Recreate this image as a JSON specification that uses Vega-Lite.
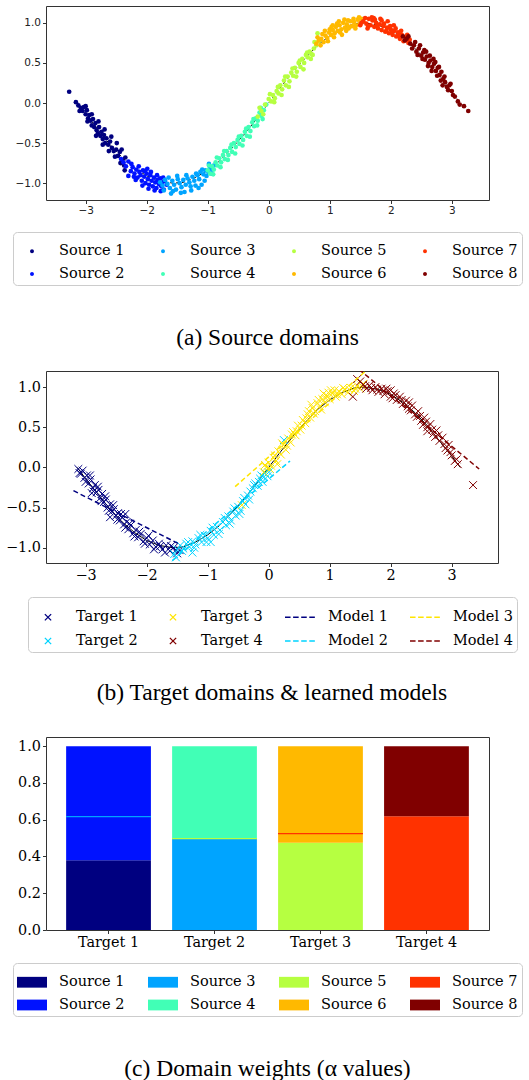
{
  "$schema": "https://vega.github.io/schema/vega-lite/v6.json",
  "padding": {"top": 5, "left": 5, "right": 0, "bottom": 0},
  "background": "white",
  "spacing": 31,
  "resolve": {"scale": {"color": "independent", "shape": "independent"}, "legend": {"color": "independent", "shape": "independent"}},
  "datasets": {
    "src": [
      {"d":"Source 1","x":-3.27,"y":0.14},{"d":"Source 1","x":-3.16,"y":0.01},{"d":"Source 1","x":-3.12,"y":-0.03},{"d":"Source 1","x":-3.08,"y":-0.06},{"d":"Source 1","x":-3.05,"y":-0.1},{"d":"Source 1","x":-3.03,"y":-0.05},{"d":"Source 1","x":-3.0,"y":-0.14},{"d":"Source 1","x":-2.98,"y":-0.09},{"d":"Source 1","x":-2.96,"y":-0.19},{"d":"Source 1","x":-2.94,"y":-0.15},{"d":"Source 1","x":-2.92,"y":-0.22},{"d":"Source 1","x":-2.9,"y":-0.28},{"d":"Source 1","x":-2.88,"y":-0.2},{"d":"Source 1","x":-2.86,"y":-0.3},{"d":"Source 1","x":-2.84,"y":-0.25},{"d":"Source 1","x":-2.82,"y":-0.34},{"d":"Source 1","x":-2.8,"y":-0.38},{"d":"Source 1","x":-2.78,"y":-0.3},{"d":"Source 1","x":-2.76,"y":-0.41},{"d":"Source 1","x":-2.74,"y":-0.36},{"d":"Source 1","x":-2.72,"y":-0.45},{"d":"Source 1","x":-2.7,"y":-0.4},{"d":"Source 1","x":-2.68,"y":-0.5},{"d":"Source 1","x":-2.66,"y":-0.44},{"d":"Source 1","x":-2.63,"y":-0.52},{"d":"Source 1","x":-2.6,"y":-0.48},{"d":"Source 1","x":-2.57,"y":-0.56},{"d":"Source 1","x":-2.54,"y":-0.6},{"d":"Source 1","x":-2.5,"y":-0.58},{"d":"Source 1","x":-2.47,"y":-0.66},{"d":"Source 1","x":-2.44,"y":-0.61},{"d":"Source 1","x":-2.4,"y":-0.72},{"d":"Source 1","x":-2.37,"y":-0.78},{"d":"Source 1","x":-2.35,"y":-0.68},
      {"d":"Source 1","x":-3.1,"y":-0.1},{"d":"Source 1","x":-3.0,"y":-0.04},{"d":"Source 1","x":-2.97,"y":-0.23},{"d":"Source 1","x":-2.9,"y":-0.14},{"d":"Source 1","x":-2.83,"y":-0.41},{"d":"Source 1","x":-2.79,"y":-0.23},{"d":"Source 1","x":-2.72,"y":-0.52},{"d":"Source 1","x":-2.69,"y":-0.33},{"d":"Source 1","x":-2.62,"y":-0.6},{"d":"Source 1","x":-2.58,"y":-0.42},{"d":"Source 1","x":-2.52,"y":-0.67},{"d":"Source 1","x":-2.49,"y":-0.5},{"d":"Source 1","x":-2.43,"y":-0.75},{"d":"Source 1","x":-2.41,"y":-0.58},{"d":"Source 1","x":-2.36,"y":-0.84},
      {"d":"Source 2","x":-2.42,"y":-0.7},{"d":"Source 2","x":-2.38,"y":-0.74},{"d":"Source 2","x":-2.34,"y":-0.79},{"d":"Source 2","x":-2.3,"y":-0.73},{"d":"Source 2","x":-2.26,"y":-0.85},{"d":"Source 2","x":-2.23,"y":-0.8},{"d":"Source 2","x":-2.2,"y":-0.88},{"d":"Source 2","x":-2.17,"y":-0.83},{"d":"Source 2","x":-2.15,"y":-0.93},{"d":"Source 2","x":-2.12,"y":-0.86},{"d":"Source 2","x":-2.1,"y":-0.9},{"d":"Source 2","x":-2.08,"y":-0.97},{"d":"Source 2","x":-2.06,"y":-0.84},{"d":"Source 2","x":-2.04,"y":-0.92},{"d":"Source 2","x":-2.02,"y":-1.0},{"d":"Source 2","x":-2.0,"y":-0.88},{"d":"Source 2","x":-1.98,"y":-0.95},{"d":"Source 2","x":-1.96,"y":-1.02},{"d":"Source 2","x":-1.94,"y":-0.9},{"d":"Source 2","x":-1.92,"y":-0.97},{"d":"Source 2","x":-1.9,"y":-1.04},{"d":"Source 2","x":-1.88,"y":-0.93},{"d":"Source 2","x":-1.86,"y":-0.99},{"d":"Source 2","x":-1.84,"y":-1.06},{"d":"Source 2","x":-1.82,"y":-0.96},{"d":"Source 2","x":-1.8,"y":-1.01},{"d":"Source 2","x":-1.78,"y":-0.94},{"d":"Source 2","x":-1.76,"y":-1.04},{"d":"Source 2","x":-1.74,"y":-0.99},{"d":"Source 2","x":-1.72,"y":-1.08},{"d":"Source 2","x":-1.7,"y":-0.97},{"d":"Source 2","x":-1.67,"y":-1.02},
      {"d":"Source 2","x":-2.3,"y":-0.91},{"d":"Source 2","x":-2.25,"y":-0.76},{"d":"Source 2","x":-2.18,"y":-0.96},{"d":"Source 2","x":-2.13,"y":-0.79},{"d":"Source 2","x":-2.07,"y":-1.03},{"d":"Source 2","x":-2.03,"y":-0.85},{"d":"Source 2","x":-1.97,"y":-1.07},{"d":"Source 2","x":-1.93,"y":-0.86},{"d":"Source 2","x":-1.87,"y":-1.09},{"d":"Source 2","x":-1.83,"y":-0.9},{"d":"Source 2","x":-1.77,"y":-1.1},{"d":"Source 2","x":-1.73,"y":-0.93},{"d":"Source 2","x":-2.21,"y":-0.92},{"d":"Source 2","x":-1.99,"y":-0.82},
      {"d":"Source 3","x":-1.78,"y":-0.99},{"d":"Source 3","x":-1.74,"y":-1.03},{"d":"Source 3","x":-1.7,"y":-0.96},{"d":"Source 3","x":-1.66,"y":-1.01},{"d":"Source 3","x":-1.62,"y":-1.06},{"d":"Source 3","x":-1.58,"y":-0.97},{"d":"Source 3","x":-1.55,"y":-1.02},{"d":"Source 3","x":-1.52,"y":-1.08},{"d":"Source 3","x":-1.49,"y":-0.95},{"d":"Source 3","x":-1.46,"y":-1.0},{"d":"Source 3","x":-1.43,"y":-1.05},{"d":"Source 3","x":-1.4,"y":-0.96},{"d":"Source 3","x":-1.38,"y":-1.11},{"d":"Source 3","x":-1.36,"y":-1.02},{"d":"Source 3","x":-1.33,"y":-0.94},{"d":"Source 3","x":-1.3,"y":-0.99},{"d":"Source 3","x":-1.28,"y":-1.04},{"d":"Source 3","x":-1.25,"y":-0.92},{"d":"Source 3","x":-1.22,"y":-0.97},{"d":"Source 3","x":-1.2,"y":-1.03},{"d":"Source 3","x":-1.17,"y":-0.9},{"d":"Source 3","x":-1.14,"y":-0.95},{"d":"Source 3","x":-1.12,"y":-0.86},{"d":"Source 3","x":-1.1,"y":-1.02},{"d":"Source 3","x":-1.07,"y":-0.89},{"d":"Source 3","x":-1.04,"y":-0.84},{"d":"Source 3","x":-1.02,"y":-0.91},{"d":"Source 3","x":-0.99,"y":-0.86},{"d":"Source 3","x":-0.96,"y":-0.8},{"d":"Source 3","x":-0.93,"y":-0.83},{"d":"Source 3","x":-0.9,"y":-0.78},
      {"d":"Source 3","x":-1.72,"y":-1.09},{"d":"Source 3","x":-1.64,"y":-0.93},{"d":"Source 3","x":-1.57,"y":-1.1},{"d":"Source 3","x":-1.5,"y":-0.91},{"d":"Source 3","x":-1.44,"y":-1.12},{"d":"Source 3","x":-1.35,"y":-0.9},{"d":"Source 3","x":-1.27,"y":-1.09},{"d":"Source 3","x":-1.19,"y":-0.88},{"d":"Source 3","x":-1.15,"y":-1.06},{"d":"Source 3","x":-1.09,"y":-0.83},{"d":"Source 3","x":-1.05,"y":-0.97},{"d":"Source 3","x":-0.98,"y":-0.76},{"d":"Source 3","x":-0.94,"y":-0.88},{"d":"Source 3","x":-1.6,"y":-1.13},
      {"d":"Source 4","x":-1.0,"y":-0.84},{"d":"Source 4","x":-0.96,"y":-0.88},{"d":"Source 4","x":-0.93,"y":-0.79},{"d":"Source 4","x":-0.9,"y":-0.83},{"d":"Source 4","x":-0.87,"y":-0.74},{"d":"Source 4","x":-0.84,"y":-0.78},{"d":"Source 4","x":-0.81,"y":-0.69},{"d":"Source 4","x":-0.78,"y":-0.74},{"d":"Source 4","x":-0.75,"y":-0.65},{"d":"Source 4","x":-0.72,"y":-0.7},{"d":"Source 4","x":-0.69,"y":-0.6},{"d":"Source 4","x":-0.66,"y":-0.65},{"d":"Source 4","x":-0.63,"y":-0.56},{"d":"Source 4","x":-0.6,"y":-0.61},{"d":"Source 4","x":-0.57,"y":-0.5},{"d":"Source 4","x":-0.54,"y":-0.55},{"d":"Source 4","x":-0.51,"y":-0.46},{"d":"Source 4","x":-0.48,"y":-0.51},{"d":"Source 4","x":-0.45,"y":-0.41},{"d":"Source 4","x":-0.42,"y":-0.46},{"d":"Source 4","x":-0.39,"y":-0.36},{"d":"Source 4","x":-0.36,"y":-0.41},{"d":"Source 4","x":-0.33,"y":-0.3},{"d":"Source 4","x":-0.3,"y":-0.35},{"d":"Source 4","x":-0.27,"y":-0.24},{"d":"Source 4","x":-0.24,"y":-0.29},{"d":"Source 4","x":-0.21,"y":-0.19},{"d":"Source 4","x":-0.18,"y":-0.22},{"d":"Source 4","x":-0.15,"y":-0.12},{"d":"Source 4","x":-0.12,"y":-0.16},{"d":"Source 4","x":-0.08,"y":-0.09},{"d":"Source 4","x":-0.04,"y":-0.02},
      {"d":"Source 4","x":-0.98,"y":-0.78},{"d":"Source 4","x":-0.91,"y":-0.89},{"d":"Source 4","x":-0.85,"y":-0.68},{"d":"Source 4","x":-0.79,"y":-0.8},{"d":"Source 4","x":-0.73,"y":-0.6},{"d":"Source 4","x":-0.67,"y":-0.71},{"d":"Source 4","x":-0.61,"y":-0.52},{"d":"Source 4","x":-0.55,"y":-0.63},{"d":"Source 4","x":-0.49,"y":-0.42},{"d":"Source 4","x":-0.43,"y":-0.53},{"d":"Source 4","x":-0.37,"y":-0.32},{"d":"Source 4","x":-0.31,"y":-0.42},{"d":"Source 4","x":-0.25,"y":-0.2},{"d":"Source 4","x":-0.19,"y":-0.28},{"d":"Source 4","x":-0.13,"y":-0.06},{"d":"Source 4","x":-0.1,"y":-0.2},
      {"d":"Source 5","x":-0.18,"y":-0.17},{"d":"Source 5","x":-0.12,"y":-0.1},{"d":"Source 5","x":-0.06,"y":-0.02},{"d":"Source 5","x":0.0,"y":0.05},{"d":"Source 5","x":0.04,"y":0.02},{"d":"Source 5","x":0.07,"y":0.1},{"d":"Source 5","x":0.1,"y":0.06},{"d":"Source 5","x":0.13,"y":0.15},{"d":"Source 5","x":0.16,"y":0.12},{"d":"Source 5","x":0.19,"y":0.22},{"d":"Source 5","x":0.22,"y":0.17},{"d":"Source 5","x":0.25,"y":0.28},{"d":"Source 5","x":0.28,"y":0.22},{"d":"Source 5","x":0.31,"y":0.33},{"d":"Source 5","x":0.34,"y":0.27},{"d":"Source 5","x":0.37,"y":0.38},{"d":"Source 5","x":0.4,"y":0.34},{"d":"Source 5","x":0.43,"y":0.44},{"d":"Source 5","x":0.46,"y":0.39},{"d":"Source 5","x":0.49,"y":0.5},{"d":"Source 5","x":0.52,"y":0.45},{"d":"Source 5","x":0.55,"y":0.55},{"d":"Source 5","x":0.58,"y":0.5},{"d":"Source 5","x":0.61,"y":0.6},{"d":"Source 5","x":0.64,"y":0.57},{"d":"Source 5","x":0.67,"y":0.64},{"d":"Source 5","x":0.7,"y":0.61},{"d":"Source 5","x":0.74,"y":0.68},{"d":"Source 5","x":0.78,"y":0.72},{"d":"Source 5","x":0.82,"y":0.77},{"d":"Source 5","x":0.8,"y":0.87},
      {"d":"Source 5","x":-0.15,"y":-0.06},{"d":"Source 5","x":-0.09,"y":-0.14},{"d":"Source 5","x":0.02,"y":0.11},{"d":"Source 5","x":0.09,"y":0.01},{"d":"Source 5","x":0.15,"y":0.2},{"d":"Source 5","x":0.21,"y":0.1},{"d":"Source 5","x":0.27,"y":0.33},{"d":"Source 5","x":0.33,"y":0.2},{"d":"Source 5","x":0.39,"y":0.43},{"d":"Source 5","x":0.45,"y":0.33},{"d":"Source 5","x":0.51,"y":0.53},{"d":"Source 5","x":0.57,"y":0.42},{"d":"Source 5","x":0.63,"y":0.63},{"d":"Source 5","x":0.69,"y":0.55},{"d":"Source 5","x":0.75,"y":0.76},{"d":"Source 5","x":0.72,"y":0.6},
      {"d":"Source 6","x":0.78,"y":0.74},{"d":"Source 6","x":0.82,"y":0.78},{"d":"Source 6","x":0.86,"y":0.8},{"d":"Source 6","x":0.9,"y":0.76},{"d":"Source 6","x":0.93,"y":0.84},{"d":"Source 6","x":0.96,"y":0.81},{"d":"Source 6","x":0.99,"y":0.88},{"d":"Source 6","x":1.02,"y":0.85},{"d":"Source 6","x":1.05,"y":0.91},{"d":"Source 6","x":1.08,"y":0.87},{"d":"Source 6","x":1.1,"y":0.95},{"d":"Source 6","x":1.13,"y":0.9},{"d":"Source 6","x":1.16,"y":0.97},{"d":"Source 6","x":1.19,"y":0.92},{"d":"Source 6","x":1.22,"y":1.0},{"d":"Source 6","x":1.25,"y":0.94},{"d":"Source 6","x":1.28,"y":0.98},{"d":"Source 6","x":1.31,"y":0.93},{"d":"Source 6","x":1.34,"y":1.02},{"d":"Source 6","x":1.37,"y":0.96},{"d":"Source 6","x":1.4,"y":1.01},{"d":"Source 6","x":1.43,"y":0.97},{"d":"Source 6","x":1.46,"y":1.04},{"d":"Source 6","x":1.49,"y":0.99},{"d":"Source 6","x":1.52,"y":1.05},{"d":"Source 6","x":1.2,"y":0.85},{"d":"Source 6","x":1.05,"y":0.97},{"d":"Source 6","x":1.3,"y":1.03},{"d":"Source 6","x":1.0,"y":0.92},{"d":"Source 6","x":0.88,"y":0.86},
      {"d":"Source 6","x":0.8,"y":0.82},{"d":"Source 6","x":0.85,"y":0.72},{"d":"Source 6","x":0.92,"y":0.9},{"d":"Source 6","x":0.97,"y":0.77},{"d":"Source 6","x":1.03,"y":0.95},{"d":"Source 6","x":1.07,"y":0.82},{"d":"Source 6","x":1.12,"y":0.99},{"d":"Source 6","x":1.17,"y":0.88},{"d":"Source 6","x":1.24,"y":1.04},{"d":"Source 6","x":1.27,"y":0.9},{"d":"Source 6","x":1.33,"y":0.95},{"d":"Source 6","x":1.39,"y":1.05},{"d":"Source 6","x":1.42,"y":0.93},{"d":"Source 6","x":1.48,"y":1.07},{"d":"Source 6","x":1.15,"y":1.02},
      {"d":"Source 7","x":1.5,"y":0.97},{"d":"Source 7","x":1.55,"y":1.02},{"d":"Source 7","x":1.6,"y":0.99},{"d":"Source 7","x":1.64,"y":1.05},{"d":"Source 7","x":1.67,"y":0.97},{"d":"Source 7","x":1.7,"y":1.03},{"d":"Source 7","x":1.73,"y":0.95},{"d":"Source 7","x":1.76,"y":1.0},{"d":"Source 7","x":1.79,"y":0.93},{"d":"Source 7","x":1.82,"y":0.98},{"d":"Source 7","x":1.85,"y":0.91},{"d":"Source 7","x":1.88,"y":0.96},{"d":"Source 7","x":1.91,"y":0.89},{"d":"Source 7","x":1.94,"y":0.94},{"d":"Source 7","x":1.97,"y":0.87},{"d":"Source 7","x":2.0,"y":0.92},{"d":"Source 7","x":2.03,"y":0.85},{"d":"Source 7","x":2.06,"y":0.9},{"d":"Source 7","x":2.09,"y":0.83},{"d":"Source 7","x":2.12,"y":0.88},{"d":"Source 7","x":2.15,"y":0.8},{"d":"Source 7","x":2.18,"y":0.85},{"d":"Source 7","x":2.21,"y":0.77},{"d":"Source 7","x":2.25,"y":0.82},{"d":"Source 7","x":2.29,"y":0.75},{"d":"Source 7","x":1.72,"y":1.06},{"d":"Source 7","x":1.85,"y":1.03},{"d":"Source 7","x":1.95,"y":1.02},{"d":"Source 7","x":2.05,"y":0.97},{"d":"Source 7","x":1.62,"y":0.93},
      {"d":"Source 7","x":1.52,"y":1.0},{"d":"Source 7","x":1.58,"y":1.06},{"d":"Source 7","x":1.63,"y":0.96},{"d":"Source 7","x":1.69,"y":1.07},{"d":"Source 7","x":1.74,"y":1.04},{"d":"Source 7","x":1.78,"y":0.97},{"d":"Source 7","x":1.83,"y":1.05},{"d":"Source 7","x":1.89,"y":0.99},{"d":"Source 7","x":1.93,"y":0.9},{"d":"Source 7","x":1.99,"y":0.96},{"d":"Source 7","x":2.02,"y":0.89},{"d":"Source 7","x":2.08,"y":0.93},{"d":"Source 7","x":2.13,"y":0.84},{"d":"Source 7","x":2.17,"y":0.9},{"d":"Source 7","x":2.23,"y":0.78},{"d":"Source 7","x":2.27,"y":0.85},{"d":"Source 7","x":2.31,"y":0.79},
      {"d":"Source 8","x":2.2,"y":0.83},{"d":"Source 8","x":2.26,"y":0.8},{"d":"Source 8","x":2.32,"y":0.74},{"d":"Source 8","x":2.38,"y":0.72},{"d":"Source 8","x":2.42,"y":0.64},{"d":"Source 8","x":2.46,"y":0.68},{"d":"Source 8","x":2.5,"y":0.59},{"d":"Source 8","x":2.53,"y":0.63},{"d":"Source 8","x":2.56,"y":0.54},{"d":"Source 8","x":2.59,"y":0.58},{"d":"Source 8","x":2.62,"y":0.5},{"d":"Source 8","x":2.65,"y":0.53},{"d":"Source 8","x":2.68,"y":0.45},{"d":"Source 8","x":2.71,"y":0.49},{"d":"Source 8","x":2.74,"y":0.4},{"d":"Source 8","x":2.77,"y":0.44},{"d":"Source 8","x":2.8,"y":0.35},{"d":"Source 8","x":2.83,"y":0.39},{"d":"Source 8","x":2.86,"y":0.3},{"d":"Source 8","x":2.89,"y":0.26},{"d":"Source 8","x":2.92,"y":0.2},{"d":"Source 8","x":2.96,"y":0.22},{"d":"Source 8","x":3.0,"y":0.15},{"d":"Source 8","x":3.05,"y":0.08},{"d":"Source 8","x":3.1,"y":0.02},{"d":"Source 8","x":3.2,"y":-0.04},{"d":"Source 8","x":3.27,"y":-0.1},{"d":"Source 8","x":2.55,"y":0.66},{"d":"Source 8","x":2.7,"y":0.55},{"d":"Source 8","x":2.85,"y":0.22},
      {"d":"Source 8","x":2.23,"y":0.78},{"d":"Source 8","x":2.29,"y":0.83},{"d":"Source 8","x":2.35,"y":0.68},{"d":"Source 8","x":2.4,"y":0.76},{"d":"Source 8","x":2.44,"y":0.6},{"d":"Source 8","x":2.48,"y":0.72},{"d":"Source 8","x":2.52,"y":0.55},{"d":"Source 8","x":2.58,"y":0.64},{"d":"Source 8","x":2.61,"y":0.46},{"d":"Source 8","x":2.64,"y":0.59},{"d":"Source 8","x":2.67,"y":0.4},{"d":"Source 8","x":2.73,"y":0.51},{"d":"Source 8","x":2.76,"y":0.34},{"d":"Source 8","x":2.79,"y":0.45},{"d":"Source 8","x":2.82,"y":0.28},{"d":"Source 8","x":2.88,"y":0.33},{"d":"Source 8","x":2.94,"y":0.16},{"d":"Source 8","x":2.98,"y":0.24},{"d":"Source 8","x":3.02,"y":0.1},{"d":"Source 8","x":3.13,"y":-0.02}
    ],
    "tgt": [
      {"d":"Target 1","x":-3.12,"y":-0.02},{"d":"Target 1","x":-3.08,"y":-0.08},{"d":"Target 1","x":-3.05,"y":-0.04},{"d":"Target 1","x":-3.02,"y":-0.13},{"d":"Target 1","x":-2.98,"y":-0.1},{"d":"Target 1","x":-2.95,"y":-0.2},{"d":"Target 1","x":-2.92,"y":-0.15},{"d":"Target 1","x":-2.88,"y":-0.26},{"d":"Target 1","x":-2.85,"y":-0.22},{"d":"Target 1","x":-2.82,"y":-0.31},{"d":"Target 1","x":-2.79,"y":-0.28},{"d":"Target 1","x":-2.76,"y":-0.38},{"d":"Target 1","x":-2.73,"y":-0.33},{"d":"Target 1","x":-2.7,"y":-0.43},{"d":"Target 1","x":-2.67,"y":-0.4},{"d":"Target 1","x":-2.64,"y":-0.5},{"d":"Target 1","x":-2.6,"y":-0.46},{"d":"Target 1","x":-2.57,"y":-0.55},{"d":"Target 1","x":-2.54,"y":-0.52},{"d":"Target 1","x":-2.5,"y":-0.6},{"d":"Target 1","x":-2.47,"y":-0.57},{"d":"Target 1","x":-2.44,"y":-0.66},{"d":"Target 1","x":-2.4,"y":-0.62},{"d":"Target 1","x":-2.37,"y":-0.71},{"d":"Target 1","x":-2.33,"y":-0.68},{"d":"Target 1","x":-2.3,"y":-0.77},{"d":"Target 1","x":-2.26,"y":-0.72},{"d":"Target 1","x":-2.22,"y":-0.82},{"d":"Target 1","x":-2.18,"y":-0.78},{"d":"Target 1","x":-2.14,"y":-0.87},{"d":"Target 1","x":-2.1,"y":-0.83},{"d":"Target 1","x":-2.05,"y":-0.92},{"d":"Target 1","x":-2.0,"y":-0.88},{"d":"Target 1","x":-1.95,"y":-0.96},{"d":"Target 1","x":-1.9,"y":-0.91},{"d":"Target 1","x":-1.85,"y":-0.99},{"d":"Target 1","x":-1.8,"y":-0.95},{"d":"Target 1","x":-1.74,"y":-1.02},{"d":"Target 1","x":-1.68,"y":-0.97},{"d":"Target 1","x":-1.62,"y":-1.04},{"d":"Target 1","x":-1.56,"y":-1.0},{"d":"Target 1","x":-1.5,"y":-1.07},{"d":"Target 1","x":-1.46,"y":-1.03},{"d":"Target 1","x":-2.6,"y":-0.62},{"d":"Target 1","x":-2.35,"y":-0.58},{"d":"Target 1","x":-2.9,"y":-0.32},
      {"d":"Target 1","x":-3.1,"y":-0.07},{"d":"Target 1","x":-3.0,"y":-0.18},{"d":"Target 1","x":-2.93,"y":-0.1},{"d":"Target 1","x":-2.87,"y":-0.3},{"d":"Target 1","x":-2.8,"y":-0.24},{"d":"Target 1","x":-2.74,"y":-0.42},{"d":"Target 1","x":-2.68,"y":-0.36},{"d":"Target 1","x":-2.62,"y":-0.54},{"d":"Target 1","x":-2.55,"y":-0.47},{"d":"Target 1","x":-2.48,"y":-0.65},{"d":"Target 1","x":-2.42,"y":-0.58},{"d":"Target 1","x":-2.35,"y":-0.75},{"d":"Target 1","x":-2.28,"y":-0.7},{"d":"Target 1","x":-2.2,"y":-0.86},{"d":"Target 1","x":-2.12,"y":-0.8},{"d":"Target 1","x":-2.03,"y":-0.95},{"d":"Target 1","x":-1.97,"y":-0.85},{"d":"Target 1","x":-1.88,"y":-1.02},{"d":"Target 1","x":-1.78,"y":-0.98},{"d":"Target 1","x":-1.7,"y":-1.06},{"d":"Target 1","x":-1.6,"y":-0.98},{"d":"Target 1","x":-1.52,"y":-1.03},
      {"d":"Target 2","x":-1.55,"y":-1.08},{"d":"Target 2","x":-1.5,"y":-1.02},{"d":"Target 2","x":-1.45,"y":-0.97},{"d":"Target 2","x":-1.4,"y":-1.01},{"d":"Target 2","x":-1.35,"y":-0.95},{"d":"Target 2","x":-1.3,"y":-0.99},{"d":"Target 2","x":-1.25,"y":-0.92},{"d":"Target 2","x":-1.2,"y":-0.96},{"d":"Target 2","x":-1.15,"y":-0.88},{"d":"Target 2","x":-1.1,"y":-0.93},{"d":"Target 2","x":-1.05,"y":-0.85},{"d":"Target 2","x":-1.0,"y":-0.88},{"d":"Target 2","x":-0.95,"y":-0.79},{"d":"Target 2","x":-0.9,"y":-0.84},{"d":"Target 2","x":-0.85,"y":-0.74},{"d":"Target 2","x":-0.8,"y":-0.78},{"d":"Target 2","x":-0.75,"y":-0.68},{"d":"Target 2","x":-0.7,"y":-0.72},{"d":"Target 2","x":-0.66,"y":-0.61},{"d":"Target 2","x":-0.62,"y":-0.66},{"d":"Target 2","x":-0.58,"y":-0.55},{"d":"Target 2","x":-0.54,"y":-0.6},{"d":"Target 2","x":-0.5,"y":-0.49},{"d":"Target 2","x":-0.46,"y":-0.54},{"d":"Target 2","x":-0.42,"y":-0.42},{"d":"Target 2","x":-0.38,"y":-0.46},{"d":"Target 2","x":-0.34,"y":-0.35},{"d":"Target 2","x":-0.3,"y":-0.3},{"d":"Target 2","x":-0.26,"y":-0.26},{"d":"Target 2","x":-0.22,"y":-0.2},{"d":"Target 2","x":-0.18,"y":-0.23},{"d":"Target 2","x":-0.14,"y":-0.14},{"d":"Target 2","x":-0.1,"y":-0.18},{"d":"Target 2","x":-0.06,"y":-0.07},{"d":"Target 2","x":-0.02,"y":-0.11},{"d":"Target 2","x":0.02,"y":-0.02},{"d":"Target 2","x":0.25,"y":0.34},{"d":"Target 2","x":-1.25,"y":-1.06},{"d":"Target 2","x":-0.95,"y":-0.93},
      {"d":"Target 2","x":-1.52,"y":-1.12},{"d":"Target 2","x":-1.42,"y":-1.04},{"d":"Target 2","x":-1.32,"y":-0.93},{"d":"Target 2","x":-1.22,"y":-1.0},{"d":"Target 2","x":-1.12,"y":-0.84},{"d":"Target 2","x":-1.02,"y":-0.93},{"d":"Target 2","x":-0.92,"y":-0.75},{"d":"Target 2","x":-0.82,"y":-0.83},{"d":"Target 2","x":-0.72,"y":-0.63},{"d":"Target 2","x":-0.64,"y":-0.7},{"d":"Target 2","x":-0.56,"y":-0.51},{"d":"Target 2","x":-0.48,"y":-0.58},{"d":"Target 2","x":-0.4,"y":-0.38},{"d":"Target 2","x":-0.32,"y":-0.4},{"d":"Target 2","x":-0.24,"y":-0.22},{"d":"Target 2","x":-0.16,"y":-0.18},{"d":"Target 2","x":-0.08,"y":-0.12},{"d":"Target 2","x":0.0,"y":-0.06},{"d":"Target 2","x":-0.12,"y":-0.1},
      {"d":"Target 3","x":-0.44,"y":-0.47},{"d":"Target 3","x":-0.08,"y":-0.06},{"d":"Target 3","x":-0.04,"y":0.0},{"d":"Target 3","x":0.0,"y":0.06},{"d":"Target 3","x":0.04,"y":0.02},{"d":"Target 3","x":0.08,"y":0.12},{"d":"Target 3","x":0.12,"y":0.08},{"d":"Target 3","x":0.16,"y":0.2},{"d":"Target 3","x":0.2,"y":0.16},{"d":"Target 3","x":0.24,"y":0.28},{"d":"Target 3","x":0.28,"y":0.22},{"d":"Target 3","x":0.32,"y":0.36},{"d":"Target 3","x":0.36,"y":0.31},{"d":"Target 3","x":0.4,"y":0.44},{"d":"Target 3","x":0.44,"y":0.4},{"d":"Target 3","x":0.48,"y":0.52},{"d":"Target 3","x":0.52,"y":0.47},{"d":"Target 3","x":0.56,"y":0.59},{"d":"Target 3","x":0.6,"y":0.55},{"d":"Target 3","x":0.64,"y":0.66},{"d":"Target 3","x":0.68,"y":0.62},{"d":"Target 3","x":0.72,"y":0.74},{"d":"Target 3","x":0.76,"y":0.7},{"d":"Target 3","x":0.8,"y":0.8},{"d":"Target 3","x":0.84,"y":0.76},{"d":"Target 3","x":0.88,"y":0.85},{"d":"Target 3","x":0.92,"y":0.81},{"d":"Target 3","x":0.96,"y":0.89},{"d":"Target 3","x":1.0,"y":0.85},{"d":"Target 3","x":1.05,"y":0.92},{"d":"Target 3","x":1.1,"y":0.88},{"d":"Target 3","x":1.15,"y":0.95},{"d":"Target 3","x":1.2,"y":0.91},{"d":"Target 3","x":1.25,"y":0.97},{"d":"Target 3","x":1.3,"y":0.93},{"d":"Target 3","x":1.35,"y":0.99},{"d":"Target 3","x":1.4,"y":0.95},{"d":"Target 3","x":1.45,"y":1.02},{"d":"Target 3","x":1.5,"y":0.98},{"d":"Target 3","x":1.55,"y":1.04},{"d":"Target 3","x":0.7,"y":0.78},{"d":"Target 3","x":0.9,"y":0.92},{"d":"Target 3","x":1.02,"y":0.96},
      {"d":"Target 3","x":-0.06,"y":0.03},{"d":"Target 3","x":0.02,"y":-0.02},{"d":"Target 3","x":0.1,"y":0.15},{"d":"Target 3","x":0.14,"y":0.04},{"d":"Target 3","x":0.22,"y":0.3},{"d":"Target 3","x":0.3,"y":0.27},{"d":"Target 3","x":0.38,"y":0.41},{"d":"Target 3","x":0.46,"y":0.45},{"d":"Target 3","x":0.54,"y":0.52},{"d":"Target 3","x":0.62,"y":0.61},{"d":"Target 3","x":0.66,"y":0.7},{"d":"Target 3","x":0.74,"y":0.67},{"d":"Target 3","x":0.82,"y":0.84},{"d":"Target 3","x":0.86,"y":0.72},{"d":"Target 3","x":0.94,"y":0.86},{"d":"Target 3","x":0.98,"y":0.93},{"d":"Target 3","x":1.08,"y":0.96},{"d":"Target 3","x":1.12,"y":0.91},{"d":"Target 3","x":1.22,"y":0.99},{"d":"Target 3","x":1.32,"y":0.97},{"d":"Target 3","x":1.42,"y":0.98},{"d":"Target 3","x":1.52,"y":1.02},
      {"d":"Target 4","x":1.45,"y":1.1},{"d":"Target 4","x":1.38,"y":0.88},{"d":"Target 4","x":1.55,"y":1.03},{"d":"Target 4","x":1.6,"y":0.98},{"d":"Target 4","x":1.65,"y":1.02},{"d":"Target 4","x":1.7,"y":0.96},{"d":"Target 4","x":1.75,"y":1.0},{"d":"Target 4","x":1.8,"y":0.94},{"d":"Target 4","x":1.85,"y":0.98},{"d":"Target 4","x":1.9,"y":0.91},{"d":"Target 4","x":1.95,"y":0.95},{"d":"Target 4","x":2.0,"y":0.88},{"d":"Target 4","x":2.05,"y":0.92},{"d":"Target 4","x":2.1,"y":0.84},{"d":"Target 4","x":2.15,"y":0.88},{"d":"Target 4","x":2.2,"y":0.79},{"d":"Target 4","x":2.25,"y":0.83},{"d":"Target 4","x":2.3,"y":0.73},{"d":"Target 4","x":2.35,"y":0.77},{"d":"Target 4","x":2.4,"y":0.66},{"d":"Target 4","x":2.45,"y":0.7},{"d":"Target 4","x":2.5,"y":0.58},{"d":"Target 4","x":2.55,"y":0.62},{"d":"Target 4","x":2.6,"y":0.5},{"d":"Target 4","x":2.65,"y":0.54},{"d":"Target 4","x":2.7,"y":0.42},{"d":"Target 4","x":2.75,"y":0.46},{"d":"Target 4","x":2.8,"y":0.33},{"d":"Target 4","x":2.85,"y":0.37},{"d":"Target 4","x":2.9,"y":0.24},{"d":"Target 4","x":2.95,"y":0.28},{"d":"Target 4","x":3.0,"y":0.15},{"d":"Target 4","x":3.05,"y":0.08},{"d":"Target 4","x":3.1,"y":0.04},{"d":"Target 4","x":3.35,"y":-0.22},{"d":"Target 4","x":2.0,"y":0.96},{"d":"Target 4","x":2.3,"y":0.81},{"d":"Target 4","x":2.6,"y":0.45},
      {"d":"Target 4","x":1.5,"y":1.07},{"d":"Target 4","x":1.58,"y":1.01},{"d":"Target 4","x":1.68,"y":0.99},{"d":"Target 4","x":1.78,"y":0.97},{"d":"Target 4","x":1.88,"y":0.95},{"d":"Target 4","x":1.93,"y":0.98},{"d":"Target 4","x":2.03,"y":0.86},{"d":"Target 4","x":2.08,"y":0.9},{"d":"Target 4","x":2.18,"y":0.84},{"d":"Target 4","x":2.28,"y":0.76},{"d":"Target 4","x":2.33,"y":0.71},{"d":"Target 4","x":2.43,"y":0.63},{"d":"Target 4","x":2.48,"y":0.64},{"d":"Target 4","x":2.53,"y":0.53},{"d":"Target 4","x":2.58,"y":0.57},{"d":"Target 4","x":2.68,"y":0.47},{"d":"Target 4","x":2.73,"y":0.38},{"d":"Target 4","x":2.78,"y":0.4},{"d":"Target 4","x":2.88,"y":0.29},{"d":"Target 4","x":2.93,"y":0.21},{"d":"Target 4","x":2.98,"y":0.19},{"d":"Target 4","x":3.08,"y":0.1}
    ],
    "sine": [
      {"x":-3.14,"y":0.0},{"x":-3.0,"y":-0.14},{"x":-2.8,"y":-0.33},{"x":-2.6,"y":-0.52},{"x":-2.4,"y":-0.68},{"x":-2.2,"y":-0.81},{"x":-2.0,"y":-0.91},{"x":-1.8,"y":-0.97},{"x":-1.57,"y":-1.0},{"x":-1.4,"y":-0.99},{"x":-1.2,"y":-0.93},{"x":-1.0,"y":-0.84},{"x":-0.8,"y":-0.72},{"x":-0.6,"y":-0.56},{"x":-0.4,"y":-0.39},{"x":-0.2,"y":-0.2},{"x":0.0,"y":0.0},{"x":0.2,"y":0.2},{"x":0.4,"y":0.39},{"x":0.6,"y":0.56},{"x":0.8,"y":0.72},{"x":1.0,"y":0.84},{"x":1.2,"y":0.93},{"x":1.4,"y":0.99},{"x":1.57,"y":1.0},{"x":1.8,"y":0.97},{"x":2.0,"y":0.91},{"x":2.2,"y":0.81},{"x":2.4,"y":0.68},{"x":2.6,"y":0.52},{"x":2.8,"y":0.33},{"x":3.0,"y":0.14},{"x":3.14,"y":0.0}
    ],
    "models": [
      {"d":"Model 1","x":-3.2,"y":-0.29},{"d":"Model 1","x":-1.45,"y":-0.96},
      {"d":"Model 2","x":-1.58,"y":-1.16},{"d":"Model 2","x":0.35,"y":0.08},
      {"d":"Model 3","x":-0.55,"y":-0.24},{"d":"Model 3","x":1.62,"y":1.22},
      {"d":"Model 4","x":1.48,"y":1.22},{"d":"Model 4","x":3.45,"y":-0.02}
    ],
    "weights": [
      {"t":"Target 1","s":"Source 1","w":0.379},{"t":"Target 1","s":"Source 2","w":0.621},
      {"t":"Target 2","s":"Source 3","w":0.495},{"t":"Target 2","s":"Source 4","w":0.505},
      {"t":"Target 3","s":"Source 5","w":0.474},{"t":"Target 3","s":"Source 6","w":0.526},
      {"t":"Target 4","s":"Source 7","w":0.619},{"t":"Target 4","s":"Source 8","w":0.381}
    ],
    "edges": [
      {"t":"Target 1","s":"Source 3","v":0.617},
      {"t":"Target 2","s":"Source 5","v":0.497},
      {"t":"Target 3","s":"Source 7","v":0.524}
    ]
  },
  "vconcat": [
    {
      "spacing": 20,
      "resolve": {"scale": {"color": "independent", "shape": "independent"}, "legend": {"color": "independent", "shape": "independent"}},
      "vconcat": [
        {
          "width": 443,
          "height": 194,
          "title": {"text": "(a) Source domains", "orient": "bottom", "anchor": "middle", "font": "Liberation Serif", "fontSize": 23.5, "fontWeight": "normal", "color": "black", "baseline": "alphabetic", "offset": 59},
          "layer": [
            {
              "data": {"name": "sine"},
              "mark": {"type": "line", "color": "black", "strokeWidth": 1, "strokeDash": [3, 3]},
              "encoding": {
                "x": {"field": "x", "type": "quantitative"},
                "y": {"field": "y", "type": "quantitative"}
              }
            },
            {
              "data": {"name": "src"},
              "mark": {"type": "circle", "size": 22, "opacity": 1},
              "encoding": {
                "x": {"field": "x", "type": "quantitative", "scale": {"domain": [-3.65, 3.61], "nice": false, "zero": false},
                      "axis": {"values": [-3, -2, -1, 0, 1, 2, 3], "format": "d", "labelFont": "DejaVu Sans", "labelFontSize": 10.5, "labelColor": "#222"}},
                "y": {"field": "y", "type": "quantitative", "scale": {"domain": [-1.21, 1.21], "nice": false, "zero": false},
                      "axis": {"values": [-1, -0.5, 0, 0.5, 1], "format": ".1f", "labelFont": "DejaVu Sans", "labelFontSize": 10.5, "labelColor": "#222"}},
                "color": {"field": "d", "type": "nominal",
                  "scale": {"domain": ["Source 1","Source 3","Source 5","Source 7","Source 2","Source 4","Source 6","Source 8"],
                            "range": ["#000080","#00a4ff","#b6ff41","#ff3200","#0012ff","#41ffb6","#ffb900","#800000"]},
                  "legend": {"title": null, "orient": "bottom", "direction": "horizontal", "columns": 4, "gridAlign": "each",
                    "symbolType": "M0.13,0A0.13,0.13,0,1,1,-0.13,0A0.13,0.13,0,1,1,0.13,0Z", "symbolSize": 900, "symbolStrokeWidth": 0, "symbolOpacity": 1,
                    "labelFont": "DejaVu Serif", "labelFontSize": 14.5, "labelColor": "black", "labelOffset": 12, "labelLimit": 300,
                    "columnPadding": 23, "rowPadding": 1, "padding": 4, "strokeColor": "#cccccc", "cornerRadius": 4, "fillColor": "white", "offset": 16}}
              }
            }
          ]
        },
        {
          "width": 452,
          "height": 192,
          "title": {"text": "(b) Target domains & learned models", "orient": "bottom", "anchor": "middle", "font": "Liberation Serif", "fontSize": 23.5, "fontWeight": "normal", "color": "black", "baseline": "alphabetic", "offset": 47},
          "layer": [
            {
              "data": {"name": "sine"},
              "mark": {"type": "line", "color": "black", "strokeWidth": 1},
              "encoding": {
                "x": {"field": "x", "type": "quantitative"},
                "y": {"field": "y", "type": "quantitative"}
              }
            },
            {
              "data": {"name": "tgt"},
              "mark": {"type": "point", "filled": false, "strokeWidth": 1, "size": 1400, "opacity": 1},
              "encoding": {
                "x": {"field": "x", "type": "quantitative", "scale": {"domain": [-3.65, 3.759], "nice": false, "zero": false},
                      "axis": {"values": [-3, -2, -1, 0, 1, 2, 3], "format": "d", "labelFont": "DejaVu Serif", "labelFontSize": 14.4, "labelColor": "black"}},
                "y": {"field": "y", "type": "quantitative", "scale": {"domain": [-1.19, 1.2], "nice": false, "zero": false},
                      "axis": {"values": [-1, -0.5, 0, 0.5, 1], "format": ".1f", "labelFont": "DejaVu Serif", "labelFontSize": 14.4, "labelColor": "black"}},
                "color": {"field": "d", "type": "nominal",
                  "scale": {"domain": ["Target 1","Target 3","Model 1","Model 3","Target 2","Target 4","Model 2","Model 4"],
                            "range": ["#000080","#ffe500","#000080","#ffe500","#00d4ff","#800000","#00d4ff","#800000"]},
                  "legend": {"title": null, "orient": "bottom", "direction": "horizontal", "columns": 4, "gridAlign": "each",
                    "symbolSize": 900, "symbolStrokeWidth": 1.3, "symbolOpacity": 1,
                    "labelFont": "DejaVu Serif", "labelFontSize": 14.5, "labelColor": "black", "labelOffset": 12, "labelLimit": 300,
                    "columnPadding": 19, "rowPadding": 1, "padding": 4, "strokeColor": "#cccccc", "cornerRadius": 4, "fillColor": "white", "offset": 15}},
                "shape": {"field": "d", "type": "nominal",
                  "scale": {"domain": ["Target 1","Target 3","Model 1","Model 3","Target 2","Target 4","Model 2","Model 4"],
                            "range": ["M-0.21,-0.21L0.21,0.21M-0.21,0.21L0.21,-0.21","M-0.21,-0.21L0.21,0.21M-0.21,0.21L0.21,-0.21","M-1,0L-0.63,0M-0.46,0L-0.09,0M0.08,0L0.45,0M0.62,0L0.99,0","M-1,0L-0.63,0M-0.46,0L-0.09,0M0.08,0L0.45,0M0.62,0L0.99,0","M-0.21,-0.21L0.21,0.21M-0.21,0.21L0.21,-0.21","M-0.21,-0.21L0.21,0.21M-0.21,0.21L0.21,-0.21","M-1,0L-0.63,0M-0.46,0L-0.09,0M0.08,0L0.45,0M0.62,0L0.99,0","M-1,0L-0.63,0M-0.46,0L-0.09,0M0.08,0L0.45,0M0.62,0L0.99,0"]},
                  "legend": {"title": null, "orient": "bottom", "direction": "horizontal", "columns": 4, "gridAlign": "each",
                    "symbolSize": 900, "symbolStrokeWidth": 1.3, "symbolOpacity": 1,
                    "labelFont": "DejaVu Serif", "labelFontSize": 14.5, "labelColor": "black", "labelOffset": 12, "labelLimit": 300,
                    "columnPadding": 19, "rowPadding": 1, "padding": 4, "strokeColor": "#cccccc", "cornerRadius": 4, "fillColor": "white", "offset": 15}}
              }
            },
            {
              "data": {"name": "models"},
              "mark": {"type": "line", "strokeWidth": 1.5, "strokeDash": [5, 3], "clip": true},
              "encoding": {
                "x": {"field": "x", "type": "quantitative"},
                "y": {"field": "y", "type": "quantitative"},
                "color": {"field": "d", "type": "nominal"}
              }
            }
          ]
        }
      ]
    },
    {
      "width": 443,
      "height": 193,
      "title": {"text": "(c) Domain weights (α values)", "orient": "bottom", "anchor": "middle", "font": "Liberation Serif", "fontSize": 23.5, "fontWeight": "normal", "color": "black", "baseline": "alphabetic", "offset": 59},
      "encoding": {
        "x": {"field": "t", "type": "nominal", "scale": {"paddingInner": 0.2, "paddingOuter": 0.19},
              "axis": {"labelAngle": 0, "labelFont": "DejaVu Serif", "labelFontSize": 14.4, "labelColor": "black"}},
        "color": {"field": "s", "type": "nominal",
          "scale": {"domain": ["Source 1","Source 3","Source 5","Source 7","Source 2","Source 4","Source 6","Source 8"],
                    "range": ["#000080","#00a4ff","#b6ff41","#ff3200","#0012ff","#41ffb6","#ffb900","#800000"]},
          "legend": {"title": null, "orient": "bottom", "direction": "horizontal", "columns": 4, "gridAlign": "each",
            "symbolType": "M-1,-0.36H1V0.36H-1Z", "symbolSize": 900, "symbolStrokeWidth": 0, "symbolOpacity": 1,
            "labelFont": "DejaVu Serif", "labelFontSize": 14.5, "labelColor": "black", "labelOffset": 12, "labelLimit": 300,
            "columnPadding": 23, "rowPadding": 1, "padding": 4, "strokeColor": "#cccccc", "cornerRadius": 4, "fillColor": "white", "offset": 14}}
      },
      "layer": [
        {
          "data": {"name": "weights"},
          "mark": {"type": "bar"},
          "encoding": {
            "y": {"field": "w", "type": "quantitative", "stack": "zero", "scale": {"domain": [0, 1.05], "nice": false},
                  "axis": {"values": [0, 0.2, 0.4, 0.6, 0.8, 1.0], "format": ".1f", "labelFont": "DejaVu Serif", "labelFontSize": 14.4, "labelColor": "black", "labelOverlap": false}},
            "order": {"field": "s", "sort": "ascending"}
          }
        },
        {
          "data": {"name": "edges"},
          "mark": {"type": "tick", "thickness": 1.2, "size": 85, "opacity": 1},
          "encoding": {
            "y": {"field": "v", "type": "quantitative",
                  "axis": {"values": [0, 0.2, 0.4, 0.6, 0.8, 1.0], "format": ".1f", "labelFont": "DejaVu Serif", "labelFontSize": 14.4, "labelColor": "black", "labelOverlap": false}}
          }
        }
      ]
    }
  ],
  "config": {
    "view": {"stroke": "#333333", "strokeWidth": 1},
    "axis": {"grid": false, "domain": false, "title": null, "tickColor": "#333333", "tickSize": 3.5, "tickWidth": 1, "labelPadding": 2, "labelOverlap": false},
    "legend": {"layout": {"bottom": {"anchor": "middle"}}}
  }
}
